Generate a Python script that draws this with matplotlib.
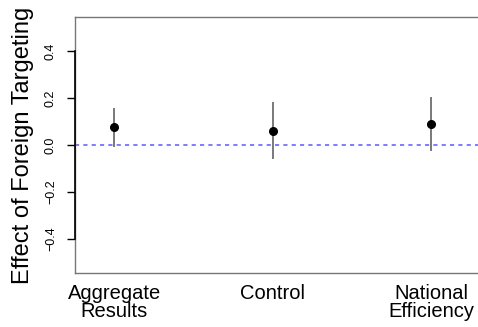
import matplotlib
matplotlib.use("Agg")
import matplotlib.pyplot as plt

plt.rcParams["font.family"] = ["Liberation Sans", "DejaVu Sans"]

categories = ["Aggregate\nResults", "Control", "National\nEfficiency"]
estimates = [0.075, 0.061, 0.089]
lower = [-0.010, -0.061, -0.027]
upper = [0.157, 0.181, 0.205]
y_ticks = [-0.4, -0.2, 0.0, 0.2, 0.4]
y_tick_labels = ["\u22120.4", "\u22120.2", "0.0", "0.2", "0.4"]

fig = plt.figure(figsize=(4.78, 3.27), dpi=100)
ax = fig.add_axes([75 / 478, 54 / 327, 415 / 478, 256 / 327])

x = list(range(1, len(categories) + 1))
ax.vlines(x, lower, upper, color="#555555", lw=1.1, zorder=2)
ax.plot(x, estimates, "o", color="black", markersize=5.5, zorder=3)
ax.axhline(0, color="#6666ff", lw=1.2, ls=(0, (2.5, 2.5)), zorder=1)

ax.set_xlim(0.753, 3.373)
ax.set_ylim(-0.545, 0.545)
ax.set_xticks(x)
ax.set_xticklabels(categories, fontsize=14.5, linespacing=0.95)
ax.tick_params(axis="x", length=0, pad=8)
ax.set_yticks(y_ticks)
ax.set_yticklabels(y_tick_labels, rotation=90, va="center", fontsize=9)
ax.tick_params(axis="y", length=6, width=1, pad=7)
ax.set_ylabel("Effect of Foreign Targeting", fontsize=17, labelpad=8)

for s in ax.spines.values():
    s.set_color("#777777")
    s.set_linewidth(1.0)
ax.plot([0, 0], [-0.4, 0.4], transform=ax.get_yaxis_transform(),
        color="black", lw=1.2, clip_on=False, zorder=4)

fig.savefig("out.png", dpi=100)
